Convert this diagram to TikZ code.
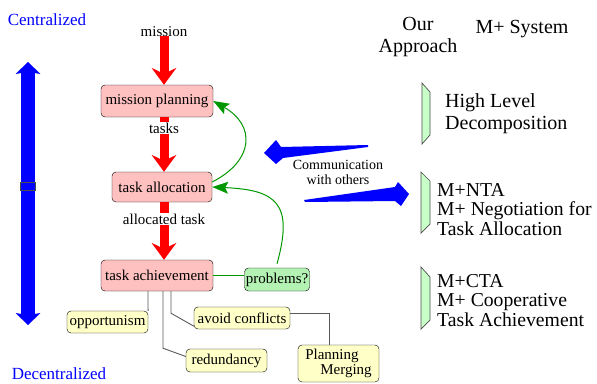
\documentclass[tikz,border=0pt]{standalone}
\usepackage{fontspec}
\setmainfont{LiberationSerif}[Extension=.ttf, UprightFont=*-Regular, BoldFont=*-Bold]
\newfontfamily\timesfont{LiberationSerif}[Extension=.ttf, UprightFont=*-Regular]
\usetikzlibrary{arrows.meta}

\definecolor{taskred}{RGB}{255,192,192}
\definecolor{noteyellow}{RGB}{255,255,200}
\definecolor{probgreen}{RGB}{180,242,180}
\definecolor{levelgreen}{RGB}{200,255,200}
\definecolor{loopgreen}{RGB}{0,150,0}

\newcommand{\boxsize}{\timesfont\fontsize{15}{15}\selectfont}
\newcommand{\headsize}{\timesfont\fontsize{20}{22}\selectfont}
\newcommand{\levelsize}{\timesfont\fontsize{19.7}{19.5}\selectfont}

\begin{document}
\begin{tikzpicture}[x=1pt,y=-1pt,
	taskbox/.style={draw, rounded corners=4pt, fill=taskred, font=\boxsize, inner sep=1pt},
	notebox/.style={draw, rounded corners=4pt, fill=noteyellow, font=\boxsize, inner sep=1pt, minimum height=22pt},
	flowarrow/.style={draw=red, line width=9pt, -{Stealth[length=17pt,width=25pt,inset=6pt,line width=0pt]}},
	feedback/.style={draw=loopgreen, line width=1pt, -{Stealth[length=16pt,width=12pt,inset=3pt,line width=0pt]}},
	linkline/.style={draw=black!65, line width=0.9pt},
	levelbar/.style={draw=black!70, fill=levelgreen, line width=0.7pt},
	labeltext/.style={font=\boxsize, inner sep=0pt}]
	\useasboundingbox (0,0) rectangle (597,383);
	
	% Centralized / decentralized scale
	\node[labeltext, text=blue, font=\timesfont\fontsize{17}{17}\selectfont, anchor=base] (cent) at (47,25) {Centralized};
	\node[labeltext, text=blue, font=\timesfont\fontsize{17}{17}\selectfont, anchor=base] (decent) at (59,379) {Decentralized};
	\coordinate (scaletop) at (28,62);
	\coordinate (scalebot) at (28,325);
	\draw[blue, line width=14pt, {Stealth[length=12pt,width=25pt,inset=2pt,line width=0pt]}-{Stealth[length=12pt,width=25pt,inset=2pt,line width=0pt]}] (scaletop) -- (scalebot);
	\filldraw[draw=black!70, fill=blue, line width=1.2pt] (20.5,182.5) rectangle (35.5,190.5);
	
	% Task boxes
	\node[taskbox, minimum width=112pt, minimum height=32pt] (plan) at (157,101) {mission planning};
	\node[taskbox, minimum width=100pt, minimum height=30pt] (alloc) at (162,187) {task allocation};
	\node[taskbox, minimum width=112pt, minimum height=31pt] (achieve) at (157,275.5) {task achievement};
	\node[taskbox, fill=probgreen, minimum width=65pt, minimum height=23pt] (problems) at (277,279.5) {problems?};
	
	% Notes under task achievement
	\node[notebox, minimum width=81pt] (opport) at (107.5,322) {opportunism};
	\node[notebox, minimum width=96pt] (avoid) at (242,318) {avoid conflicts};
	\node[notebox, minimum width=81pt, minimum height=23pt] (redund) at (226.5,360.5) {redundancy};
	\node[notebox, minimum width=81pt, minimum height=37pt, align=left] (merge) at (338.5,363.5) {Planning\\\hspace*{1em}Merging};
	
	% Red flow
	\node[labeltext, anchor=base] (mission) at (164,36) {mission};
	\draw[flowarrow] (mission.south) -- (mission.south |- plan.north);
	\draw[flowarrow] (plan.south -| mission) -- (alloc.north -| mission) node[labeltext, pos=0.2, fill=white, inner ysep=1pt] (tasks) {tasks};
	\draw[flowarrow] (alloc.south -| mission) -- (achieve.north -| mission) node[labeltext, pos=0.29, fill=white, inner ysep=1pt] (alloctask) {allocated task};
	
	% Green feedback
	\draw[feedback] ([yshift=5pt]alloc.east) .. controls (255,160) and (255,125) .. (plan.east);
	\draw[feedback] ([yshift=4pt]problems.north) .. controls (294,203) and (276,190) .. (alloc.east);
	\draw[draw=loopgreen, line width=1pt] (achieve.east) -- (achieve.east -| problems.west);
	
	% Links to notes
	\draw[linkline] ([xshift=-9pt]achieve.south) -- ++(0,17) -- (opport.north east);
	\draw[linkline] ([xshift=6pt]achieve.south) -- ++(0,57) -- ([yshift=4pt]redund.west);
	\draw[linkline] ([xshift=14pt]achieve.south) -- ++(0,22) -- ([yshift=3pt]avoid.south west);
	\draw[linkline] ([yshift=5pt]avoid.east) -| ([xshift=-9.5pt]merge.north);
	
	% Communication with others
	\fill[blue] (264,153) -- (276,140) -- (281,147) -- (368,145) -- (368,147) -- (283,158) -- (276,164) -- cycle;
	\fill[blue] (304,200) -- (395,187) -- (398,182) -- (409,194) -- (401,206) -- (395,201) -- (305,202) -- cycle;
	\node[labeltext, font=\timesfont\fontsize{14}{15}\selectfont, align=center, anchor=north] (comm) at (338,160) {Communication\\with others};
	
	% Right column
	\node[labeltext, font=\headsize, align=center, anchor=north] (ours) at (418,17) {Our\\Approach};
	\node[labeltext, font=\headsize, anchor=base] (mplus) at (522,33) {M+ System};
	\filldraw[levelbar] (422,83) -- (430,92) -- (430,135) -- (422,144) -- cycle;
	\filldraw[levelbar] (421,172) -- (430,181) -- (430,224) -- (421,233) -- cycle;
	\filldraw[levelbar] (421,267) -- (430,277) -- (430,320) -- (421,329) -- cycle;
	\node[labeltext, font=\headsize, align=left, anchor=north west] (highlevel) at (445,93) {High Level\\Decomposition};
	\node[labeltext, font=\levelsize, align=left, anchor=north west] (nta) at (437,183) {M+NTA\\M+ Negotiation for\\Task Allocation};
	\node[labeltext, font=\levelsize, align=left, anchor=north west] (cta) at (437,274) {M+CTA\\M+ Cooperative\\Task Achievement};
\end{tikzpicture}
\end{document}
